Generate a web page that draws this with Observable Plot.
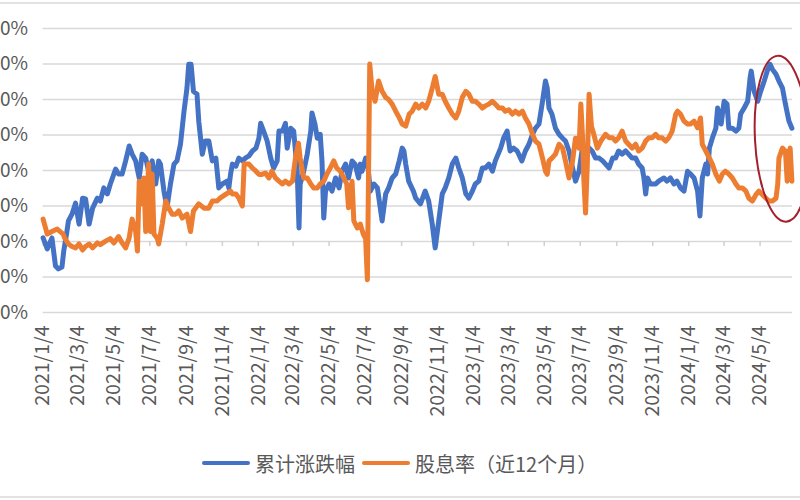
<!DOCTYPE html>
<html><head><meta charset="utf-8">
<script src="https://cdn.jsdelivr.net/npm/d3@7"></script>
<script src="https://cdn.jsdelivr.net/npm/@observablehq/plot@0.6"></script>
<style>
html,body{margin:0;padding:0;background:#fff;}
#wrap{position:relative;width:800px;height:500px;overflow:hidden;background:#fff;}
.bord{position:absolute;left:0;width:800px;height:2px;background:#e2e2e2;}
#legend{position:absolute;left:202px;top:450px;height:26px;display:flex;align-items:center;font-family:"Noto Sans CJK SC",sans-serif;font-size:20px;color:#595959;white-space:nowrap;}
.sw{width:48px;height:4px;border-radius:2px;}
</style></head><body>
<div id="wrap">
  <div id="chart"></div>
  <div class="bord" style="top:2px"></div>
  <div class="bord" style="top:496px"></div>
  <div id="legend"></div>
</div>
<script>
const seriesNames = ["累计涨跌幅", "股息率（近12个月）"];
const seriesColors = ["#4472C4", "#ED7D31"];
const xDomain = ["2021-01-04", "2024-06-28"];
const yTicks = [-20, -10, 0, 10, 20, 30, 40, 50, 60];
const tickDates = ["2021-01-04","2021-03-04","2021-05-04","2021-07-04","2021-09-04","2021-11-04",
  "2022-01-04","2022-03-04","2022-05-04","2022-07-04","2022-09-04","2022-11-04",
  "2023-01-04","2023-03-04","2023-05-04","2023-07-04","2023-09-04","2023-11-04",
  "2024-01-04","2024-03-04","2024-05-04"];

const blueDates = ["2021-01-04","2021-01-11","2021-01-19","2021-01-25","2021-01-30","2021-02-05","2021-02-08","2021-02-13","2021-02-16","2021-02-22","2021-02-28","2021-03-06","2021-03-12","2021-03-17","2021-03-23","2021-03-29","2021-04-06","2021-04-11","2021-04-17","2021-04-23","2021-04-28","2021-05-07","2021-05-12","2021-05-18","2021-05-24","2021-05-30","2021-06-04","2021-06-10","2021-06-16","2021-06-21","2021-06-27","2021-07-02","2021-07-08","2021-07-14","2021-07-19","2021-07-22","2021-07-28","2021-08-02","2021-08-08","2021-08-14","2021-08-19","2021-08-25","2021-08-31","2021-09-05","2021-09-08","2021-09-12","2021-09-16","2021-09-22","2021-09-25","2021-10-01","2021-10-06","2021-10-12","2021-10-18","2021-10-24","2021-10-29","2021-11-04","2021-11-12","2021-11-15","2021-11-18","2021-11-21","2021-11-27","2021-12-02","2021-12-08","2021-12-13","2021-12-19","2021-12-25","2021-12-31",
"2022-01-05","2022-01-08","2022-01-13","2022-01-19","2022-01-25","2022-01-30","2022-02-05","2022-02-08","2022-02-14","2022-02-19","2022-02-22","2022-02-28","2022-03-05","2022-03-08","2022-03-11","2022-03-14","2022-03-16","2022-03-22","2022-03-28","2022-04-03","2022-04-05","2022-04-10","2022-04-14","2022-04-19","2022-04-22","2022-04-25","2022-04-28","2022-05-04","2022-05-09","2022-05-15","2022-05-21","2022-05-26","2022-06-01","2022-06-06","2022-06-12","2022-06-17","2022-06-23","2022-06-26","2022-06-29","2022-07-05","2022-07-08","2022-07-13","2022-07-19","2022-07-25","2022-08-02","2022-08-08","2022-08-13","2022-08-19","2022-08-25","2022-08-31","2022-09-05","2022-09-08","2022-09-11","2022-09-16","2022-09-24","2022-09-28","2022-10-06","2022-10-14","2022-10-20","2022-10-26","2022-10-31","2022-11-06","2022-11-12","2022-11-17","2022-11-23","2022-11-29","2022-12-05","2022-12-10","2022-12-16","2022-12-22","2022-12-27",
"2023-01-02","2023-01-07","2023-01-13","2023-01-19","2023-01-24","2023-01-30","2023-02-05","2023-02-10","2023-02-19","2023-02-24","2023-03-02","2023-03-07","2023-03-13","2023-03-19","2023-03-27","2023-04-02","2023-04-08","2023-04-14","2023-04-19","2023-04-25","2023-05-01","2023-05-06","2023-05-09","2023-05-12","2023-05-17","2023-05-23","2023-05-29","2023-06-04","2023-06-09","2023-06-15","2023-06-21","2023-06-26","2023-07-02","2023-07-07","2023-07-13","2023-07-19","2023-07-24","2023-07-30","2023-08-05","2023-08-11","2023-08-16","2023-08-22","2023-08-28","2023-09-02","2023-09-07","2023-09-13","2023-09-19","2023-09-24","2023-09-30","2023-10-06","2023-10-11","2023-10-17","2023-10-20","2023-10-23","2023-10-26","2023-10-31","2023-11-09","2023-11-14","2023-11-23","2023-11-28","2023-12-04","2023-12-10","2023-12-15","2023-12-21","2023-12-27",
"2024-01-02","2024-01-07","2024-01-13","2024-01-19","2024-01-23","2024-01-27","2024-02-02","2024-02-05","2024-02-08","2024-02-13","2024-02-19","2024-02-22","2024-02-28","2024-03-04","2024-03-09","2024-03-12","2024-03-18","2024-03-24","2024-03-29","2024-04-01","2024-04-07","2024-04-13","2024-04-17","2024-04-19","2024-04-24","2024-04-30","2024-05-05","2024-05-11","2024-05-17","2024-05-21","2024-05-25","2024-05-31","2024-06-05","2024-06-11","2024-06-16","2024-06-22","2024-06-27"];
const blueValues = [1.0,-2.1,1.0,-6.9,-7.7,-7.2,-2.7,2.4,5.8,7.7,10.8,4.9,12.2,12.0,4.9,9.4,12.2,11.4,15.1,13.4,16.2,20.4,19.0,19.0,22.7,26.9,24.6,22.7,17.9,24.6,23.5,19.8,22.7,16.2,22.7,21.8,14.2,9.4,16.2,21.8,22.7,27.4,36.7,43.2,49.9,49.9,42.3,41.5,33.9,24.6,28.3,28.3,22.7,23.5,15.1,16.2,17.0,15.1,19.0,21.8,21.2,23.5,22.7,23.5,24.1,25.5,26.3,
29.1,33.3,31.1,28.3,23.5,20.7,22.7,31.1,31.1,33.3,26.3,31.9,31.1,25.5,19.8,3.8,16.2,19.8,24.6,31.1,36.2,33.1,29.1,30.2,22.7,6.6,14.2,16.2,14.2,17.9,15.1,19.8,21.8,17.9,22.7,21.8,17.9,21.8,19.8,23.5,22.7,14.2,16.2,15.1,5.8,13.4,15.1,17.9,19.0,22.7,26.3,25.5,21.8,17.0,14.2,12.2,10.6,14.2,11.4,4.9,-1.8,5.8,13.4,15.1,17.9,21.8,23.5,20.7,17.9,13.4,12.2,
14.2,16.2,17.0,20.7,20.7,21.8,19.8,22.7,26.3,29.1,31.1,25.5,26.3,25.5,22.7,25.5,27.4,30.2,31.9,33.1,39.5,45.2,43.2,37.6,35.9,31.9,30.2,29.1,28.3,25.5,20.7,17.0,19.8,25.5,24.6,26.3,25.5,23.5,23.5,22.7,21.8,20.7,23.5,23.5,25.5,24.6,25.5,24.6,23.5,23.5,21.8,20.7,17.9,13.4,17.9,16.2,16.2,17.0,17.9,17.0,17.9,16.2,17.0,15.1,14.2,
19.8,19.0,17.9,14.2,7.2,17.9,21.8,19.0,26.3,29.1,31.9,37.6,33.1,39.5,38.7,31.9,31.9,31.1,31.9,35.9,37.6,39.5,46.0,48.0,42.3,39.5,42.3,45.2,48.5,49.9,48.5,47.1,45.2,43.2,38.7,33.9,31.9];

const orangeDates = ["2021-01-04","2021-01-11","2021-01-19","2021-01-28","2021-02-02","2021-02-07","2021-02-10","2021-02-16","2021-02-22","2021-02-28","2021-03-06","2021-03-12","2021-03-17","2021-03-23","2021-03-29","2021-04-06","2021-04-11","2021-04-20","2021-04-28","2021-05-04","2021-05-12","2021-05-18","2021-05-24","2021-05-30","2021-06-04","2021-06-10","2021-06-13","2021-06-16","2021-06-20","2021-06-24","2021-06-27","2021-07-02","2021-07-05","2021-07-08","2021-07-11","2021-07-17","2021-07-19","2021-07-25","2021-07-31","2021-08-05","2021-08-11","2021-08-17","2021-08-22","2021-08-28","2021-09-05","2021-09-11","2021-09-16","2021-09-25","2021-10-04","2021-10-12","2021-10-18","2021-10-26","2021-10-31","2021-11-09","2021-11-18","2021-11-21","2021-11-27","2021-12-02","2021-12-08","2021-12-11","2021-12-19","2021-12-25","2021-12-31",
"2022-01-05","2022-01-10","2022-01-16","2022-01-22","2022-01-27","2022-02-02","2022-02-08","2022-02-14","2022-02-19","2022-02-25","2022-03-03","2022-03-08","2022-03-13","2022-03-16","2022-03-22","2022-03-28","2022-04-03","2022-04-08","2022-04-14","2022-04-19","2022-04-25","2022-04-30","2022-05-06","2022-05-12","2022-05-17","2022-05-23","2022-05-29","2022-06-03","2022-06-06","2022-06-12","2022-06-15","2022-06-21","2022-06-26","2022-07-01","2022-07-05","2022-07-08","2022-07-12","2022-07-16","2022-07-21","2022-07-27","2022-08-02","2022-08-08","2022-08-13","2022-08-19","2022-08-25","2022-08-31","2022-09-05","2022-09-11","2022-09-17","2022-09-22","2022-09-28","2022-10-03","2022-10-09","2022-10-15","2022-10-20","2022-10-26","2022-10-31","2022-11-06","2022-11-12","2022-11-17","2022-11-23","2022-11-29","2022-12-05","2022-12-10","2022-12-16","2022-12-22","2022-12-27",
"2023-01-02","2023-01-07","2023-01-13","2023-01-19","2023-01-24","2023-01-30","2023-02-05","2023-02-10","2023-02-16","2023-02-22","2023-02-27","2023-03-05","2023-03-11","2023-03-16","2023-03-22","2023-03-28","2023-04-02","2023-04-08","2023-04-14","2023-04-19","2023-04-25","2023-05-01","2023-05-06","2023-05-09","2023-05-12","2023-05-17","2023-05-23","2023-05-29","2023-06-04","2023-06-09","2023-06-15","2023-06-21","2023-06-26","2023-07-02","2023-07-05","2023-07-08","2023-07-10","2023-07-13","2023-07-16","2023-07-19","2023-07-23","2023-07-27","2023-08-02","2023-08-08","2023-08-16","2023-08-22","2023-08-28","2023-09-02","2023-09-07","2023-09-13","2023-09-19","2023-09-24","2023-09-30","2023-10-06","2023-10-11","2023-10-17","2023-10-23","2023-10-28","2023-11-03","2023-11-09","2023-11-14","2023-11-20","2023-11-26","2023-12-01","2023-12-07","2023-12-13","2023-12-16","2023-12-21","2023-12-27",
"2024-01-02","2024-01-07","2024-01-13","2024-01-19","2024-01-24","2024-01-27","2024-02-02","2024-02-08","2024-02-13","2024-02-19","2024-02-25","2024-03-01","2024-03-06","2024-03-12","2024-03-18","2024-03-24","2024-03-29","2024-04-04","2024-04-10","2024-04-15","2024-04-21","2024-04-27","2024-05-02","2024-05-08","2024-05-14","2024-05-19","2024-05-25","2024-05-31","2024-06-03","2024-06-05","2024-06-11","2024-06-16","2024-06-19","2024-06-22","2024-06-24","2024-06-27"];
const orangeValues = [6.3,2.1,2.8,3.5,2.8,2.1,0.8,-0.7,-1.4,-1.8,-0.7,-2.4,-1.4,-0.7,-1.8,-0.4,-0.9,0.1,0.8,-0.4,1.4,-0.4,-1.8,1.0,6.3,2.9,-2.7,17.0,10.6,17.9,2.8,21.8,2.8,19.0,2.1,0.8,-0.7,4.9,11.4,9.4,7.7,7.7,8.6,6.6,7.7,2.8,8.6,10.6,9.4,9.4,11.4,11.4,12.2,13.2,14.2,13.4,13.4,12.2,10.0,21.8,21.8,20.7,19.8,
18.9,18.9,19.3,17.9,19.8,17.9,17.0,16.2,17.0,16.2,17.0,23.5,27.7,23.5,17.9,17.9,16.2,15.1,15.1,16.2,17.0,18.9,20.7,22.7,20.7,19.8,17.9,16.2,9.5,17.0,5.8,3.8,4.9,2.1,0.8,-10.8,50.0,42.3,39.5,45.2,42.3,40.6,40.0,38.7,36.7,34.9,33.1,32.5,35.9,36.7,38.7,37.6,38.7,37.6,39.5,43.2,46.5,41.5,41.5,39.5,37.6,35.9,34.8,36.7,40.6,42.3,41.5,
39.5,39.5,38.7,37.6,38.2,38.7,39.5,38.7,37.6,37.6,36.7,37.1,35.9,36.7,35.9,36.7,34.8,33.1,30.2,28.3,27.4,23.5,19.8,18.9,22.7,23.5,24.6,27.4,26.3,22.7,17.9,22.7,29.1,26.3,38.7,29.1,17.9,8.0,21.8,41.5,32.5,30.2,26.3,28.3,30.2,29.2,29.2,28.3,29.2,31.1,28.3,27.4,26.3,27.4,25.5,26.3,28.3,29.2,29.2,30.2,29.2,29.2,28.3,29.2,31.1,35.9,36.7,35.9,33.9,
33.1,33.1,33.9,32.0,34.8,27.4,25.5,23.5,21.8,19.0,17.0,19.0,19.8,19.0,17.9,16.2,15.1,15.1,14.2,12.2,11.4,13.2,14.2,13.2,12.2,11.4,11.4,12.2,16.2,23.5,26.3,25.5,17.0,24.6,26.3,17.0];

// annotation ellipse (centre in data units)
const markDate = "2024-06-11";
const markValue = 28.8;

const parse = d3.utcParse("%Y-%m-%d");
const blue = blueDates.map((d, i) => ({date: parse(d), value: blueValues[i]}));
const orange = orangeDates.map((d, i) => ({date: parse(d), value: orangeValues[i]}));
const ticks = tickDates.map(parse);

const ellipseMark = (index, scales) => {
  const cx = scales.x(parse(markDate));
  const cy = scales.y(markValue);
  const e = document.createElementNS("http://www.w3.org/2000/svg", "ellipse");
  e.setAttribute("cx", cx);
  e.setAttribute("cy", cy);
  e.setAttribute("rx", 27);
  e.setAttribute("ry", 83);
  e.setAttribute("fill", "none");
  e.setAttribute("stroke", "#A3202C");
  e.setAttribute("stroke-width", 2);
  e.setAttribute("transform", `rotate(-3 ${cx} ${cy})`);
  return e;
};

const chart = Plot.plot({
  width: 800,
  height: 430,
  marginLeft: 42.6,
  marginRight: 8,
  marginTop: 28,
  marginBottom: 118,
  style: {fontFamily: "'Noto Sans CJK SC', sans-serif", fontSize: "19px", color: "#595959", background: "transparent", overflow: "visible"},
  x: {type: "utc", domain: xDomain.map(parse)},
  y: {domain: [yTicks[0], yTicks[yTicks.length - 1]]},
  marks: [
    Plot.gridY(yTicks, {stroke: "#d9d9d9", strokeOpacity: 1, strokeWidth: 1.5}),
    Plot.ruleX(ticks, {y1: 0, y2: -1.4, stroke: "#d0d0d0", strokeWidth: 1.5}),
    Plot.axisY(yTicks, {tickSize: 0, tickPadding: 15, tickFormat: d => d + "%", label: null}),
    Plot.axisX(ticks, {tickSize: 0, tickPadding: 13, tickRotate: -90, fontSize: 19.5, tickFormat: d3.utcFormat("%Y/%-m/%-d"), label: null}),
    Plot.line(blue, {x: "date", y: "value", stroke: seriesColors[0], strokeWidth: 5}),
    Plot.line(orange, {x: "date", y: "value", stroke: seriesColors[1], strokeWidth: 5}),
    ellipseMark
  ]
});
document.getElementById("chart").appendChild(chart);

const legend = document.getElementById("legend");
seriesNames.forEach((name, i) => {
  const sw = document.createElement("span");
  sw.className = "sw";
  sw.style.background = seriesColors[i];
  sw.style.marginRight = "5px";
  legend.appendChild(sw);
  const t = document.createElement("span");
  t.textContent = name;
  t.style.marginRight = "7px";
  legend.appendChild(t);
});
</script>
</body></html>
